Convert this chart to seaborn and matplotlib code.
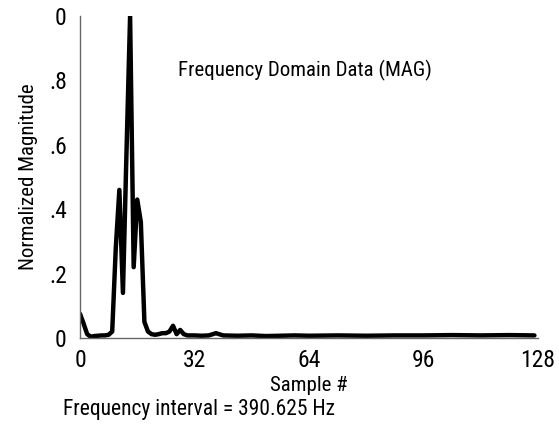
import matplotlib
matplotlib.use("Agg")
import matplotlib.pyplot as plt
import seaborn as sns

# FFT magnitude, normalized
samples = [0, 1, 2, 3, 4, 5, 6, 7, 8, 9, 10, 11, 12, 13, 14, 15, 16, 17, 18, 19,
           20, 21, 22, 23, 24, 25, 26, 27, 28, 29, 30, 32, 34, 36, 38, 40, 44, 48,
           52, 56, 60, 64, 72, 80, 88, 96, 104, 112, 120, 127]
magnitude = [0.075, 0.045, 0.012, 0.004, 0.006, 0.007, 0.008, 0.008, 0.01, 0.02,
             0.28, 0.46, 0.14, 0.58, 1.0, 0.22, 0.43, 0.36, 0.05, 0.02,
             0.012, 0.01, 0.012, 0.015, 0.015, 0.02, 0.038, 0.012, 0.025, 0.012,
             0.008, 0.008, 0.007, 0.008, 0.015, 0.008, 0.007, 0.008,
             0.006, 0.007, 0.008, 0.007, 0.008, 0.007, 0.008, 0.008, 0.009, 0.008, 0.009, 0.008]

x_ticks = [0, 16, 32, 48, 64, 80, 96, 112, 128]
x_labels = ["0", "", "32", "", "64", "", "96", "", "128"]
y_ticks = [0, 0.2, 0.4, 0.6, 0.8, 1.0]
y_labels = ["0", ".2", ".4", ".6", ".8", "0"]

sns.set_style("white")
plt.rcParams["font.family"] = ["Roboto Condensed", "DejaVu Sans"]
plt.rcParams["text.color"] = "black"

fig = plt.figure(figsize=(5.59, 4.42), dpi=100)
ax = fig.add_axes([80 / 559, 1 - 338 / 442, 458 / 559, 322 / 442])

sns.lineplot(x=samples, y=magnitude, ax=ax, color="black", linewidth=3.2)

ax.set_xlim(0, 128)
ax.set_ylim(0, 1.0)
ax.set_xticks(x_ticks)
ax.set_xticklabels(x_labels)
ax.set_yticks(y_ticks)
ax.set_yticklabels(y_labels)
ax.tick_params(axis="x", direction="inout", length=6, width=1, color="#666666",
               labelsize=17, pad=5, labelcolor="black")
ax.tick_params(axis="y", direction="inout", length=9, width=1, color="#666666",
               labelsize=17, pad=5, labelcolor="black")

for s in ["top", "right"]:
    ax.spines[s].set_visible(False)
for s in ["left", "bottom"]:
    ax.spines[s].set_color("#666666")
    ax.spines[s].set_linewidth(1)

ax.set_xlabel("Sample #", fontsize=15, labelpad=3, color="black")
ax.set_ylabel("Normalized Magnitude", fontsize=15, labelpad=8, color="black")
ax.text(27.3, 0.83, "Frequency Domain Data (MAG)", fontsize=15, va="center")
fig.text(63 / 559, 1 - 409 / 442, "Frequency interval = 390.625 Hz", fontsize=15.5,
         va="center")

plt.savefig("out.png", dpi=100)
